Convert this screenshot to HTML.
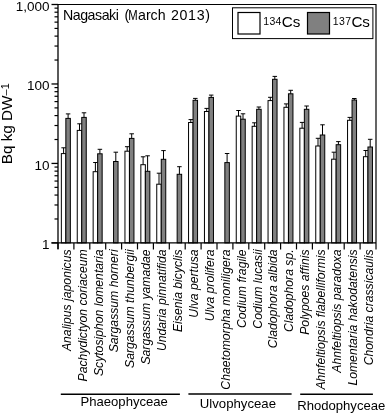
<!DOCTYPE html><html><head><meta charset="utf-8"><style>html,body{margin:0;padding:0;background:#fff;}svg{display:block;will-change:transform;}text{font-family:"Liberation Sans",sans-serif;}</style></head><body>
<svg width="387" height="414" viewBox="0 0 387 414">
<rect x="0" y="0" width="387" height="414" fill="#fff"/>
<rect x="61.35" y="153.60" width="4.50" height="89.30" fill="#fff" stroke="#000" stroke-width="1"/>
<line x1="63.60" y1="153.60" x2="63.60" y2="147.80" stroke="#000" stroke-width="1"/>
<line x1="61.35" y1="147.80" x2="65.85" y2="147.80" stroke="#000" stroke-width="1"/>
<rect x="65.85" y="118.40" width="4.50" height="124.50" fill="#808080" stroke="#000" stroke-width="1"/>
<line x1="68.10" y1="118.40" x2="68.10" y2="113.90" stroke="#000" stroke-width="1"/>
<line x1="65.85" y1="113.90" x2="70.35" y2="113.90" stroke="#000" stroke-width="1"/>
<rect x="77.25" y="130.40" width="4.50" height="112.50" fill="#fff" stroke="#000" stroke-width="1"/>
<line x1="79.50" y1="130.40" x2="79.50" y2="123.80" stroke="#000" stroke-width="1"/>
<line x1="77.25" y1="123.80" x2="81.75" y2="123.80" stroke="#000" stroke-width="1"/>
<rect x="81.75" y="117.40" width="4.50" height="125.50" fill="#808080" stroke="#000" stroke-width="1"/>
<line x1="84.00" y1="117.40" x2="84.00" y2="112.80" stroke="#000" stroke-width="1"/>
<line x1="81.75" y1="112.80" x2="86.25" y2="112.80" stroke="#000" stroke-width="1"/>
<rect x="93.15" y="171.70" width="4.50" height="71.20" fill="#fff" stroke="#000" stroke-width="1"/>
<line x1="95.40" y1="171.70" x2="95.40" y2="162.50" stroke="#000" stroke-width="1"/>
<line x1="93.15" y1="162.50" x2="97.65" y2="162.50" stroke="#000" stroke-width="1"/>
<rect x="97.65" y="153.80" width="4.50" height="89.10" fill="#808080" stroke="#000" stroke-width="1"/>
<line x1="99.90" y1="153.80" x2="99.90" y2="149.30" stroke="#000" stroke-width="1"/>
<line x1="97.65" y1="149.30" x2="102.15" y2="149.30" stroke="#000" stroke-width="1"/>
<rect x="113.55" y="161.50" width="4.50" height="81.40" fill="#808080" stroke="#000" stroke-width="1"/>
<line x1="115.80" y1="161.50" x2="115.80" y2="152.20" stroke="#000" stroke-width="1"/>
<line x1="113.55" y1="152.20" x2="118.05" y2="152.20" stroke="#000" stroke-width="1"/>
<rect x="124.95" y="151.20" width="4.50" height="91.70" fill="#fff" stroke="#000" stroke-width="1"/>
<line x1="127.20" y1="151.20" x2="127.20" y2="146.70" stroke="#000" stroke-width="1"/>
<line x1="124.95" y1="146.70" x2="129.45" y2="146.70" stroke="#000" stroke-width="1"/>
<rect x="129.45" y="138.40" width="4.50" height="104.50" fill="#808080" stroke="#000" stroke-width="1"/>
<line x1="131.70" y1="138.40" x2="131.70" y2="133.80" stroke="#000" stroke-width="1"/>
<line x1="129.45" y1="133.80" x2="133.95" y2="133.80" stroke="#000" stroke-width="1"/>
<rect x="140.85" y="164.70" width="4.50" height="78.20" fill="#fff" stroke="#000" stroke-width="1"/>
<line x1="143.10" y1="164.70" x2="143.10" y2="156.80" stroke="#000" stroke-width="1"/>
<line x1="140.85" y1="156.80" x2="145.35" y2="156.80" stroke="#000" stroke-width="1"/>
<rect x="145.35" y="171.30" width="4.50" height="71.60" fill="#808080" stroke="#000" stroke-width="1"/>
<line x1="147.60" y1="171.30" x2="147.60" y2="155.80" stroke="#000" stroke-width="1"/>
<line x1="145.35" y1="155.80" x2="149.85" y2="155.80" stroke="#000" stroke-width="1"/>
<rect x="156.75" y="184.20" width="4.50" height="58.70" fill="#fff" stroke="#000" stroke-width="1"/>
<line x1="159.00" y1="184.20" x2="159.00" y2="173.20" stroke="#000" stroke-width="1"/>
<line x1="156.75" y1="173.20" x2="161.25" y2="173.20" stroke="#000" stroke-width="1"/>
<rect x="161.25" y="159.30" width="4.50" height="83.60" fill="#808080" stroke="#000" stroke-width="1"/>
<line x1="163.50" y1="159.30" x2="163.50" y2="150.60" stroke="#000" stroke-width="1"/>
<line x1="161.25" y1="150.60" x2="165.75" y2="150.60" stroke="#000" stroke-width="1"/>
<rect x="177.15" y="174.30" width="4.50" height="68.60" fill="#808080" stroke="#000" stroke-width="1"/>
<line x1="179.40" y1="174.30" x2="179.40" y2="166.70" stroke="#000" stroke-width="1"/>
<line x1="177.15" y1="166.70" x2="181.65" y2="166.70" stroke="#000" stroke-width="1"/>
<rect x="188.55" y="122.50" width="4.50" height="120.40" fill="#fff" stroke="#000" stroke-width="1"/>
<line x1="190.80" y1="122.50" x2="190.80" y2="119.60" stroke="#000" stroke-width="1"/>
<line x1="188.55" y1="119.60" x2="193.05" y2="119.60" stroke="#000" stroke-width="1"/>
<rect x="193.05" y="100.30" width="4.50" height="142.60" fill="#808080" stroke="#000" stroke-width="1"/>
<line x1="195.30" y1="100.30" x2="195.30" y2="98.40" stroke="#000" stroke-width="1"/>
<line x1="193.05" y1="98.40" x2="197.55" y2="98.40" stroke="#000" stroke-width="1"/>
<rect x="204.45" y="111.50" width="4.50" height="131.40" fill="#fff" stroke="#000" stroke-width="1"/>
<line x1="206.70" y1="111.50" x2="206.70" y2="108.40" stroke="#000" stroke-width="1"/>
<line x1="204.45" y1="108.40" x2="208.95" y2="108.40" stroke="#000" stroke-width="1"/>
<rect x="208.95" y="97.40" width="4.50" height="145.50" fill="#808080" stroke="#000" stroke-width="1"/>
<line x1="211.20" y1="97.40" x2="211.20" y2="95.10" stroke="#000" stroke-width="1"/>
<line x1="208.95" y1="95.10" x2="213.45" y2="95.10" stroke="#000" stroke-width="1"/>
<rect x="224.85" y="162.60" width="4.50" height="80.30" fill="#808080" stroke="#000" stroke-width="1"/>
<line x1="227.10" y1="162.60" x2="227.10" y2="153.50" stroke="#000" stroke-width="1"/>
<line x1="224.85" y1="153.50" x2="229.35" y2="153.50" stroke="#000" stroke-width="1"/>
<rect x="236.25" y="116.10" width="4.50" height="126.80" fill="#fff" stroke="#000" stroke-width="1"/>
<line x1="238.50" y1="116.10" x2="238.50" y2="110.50" stroke="#000" stroke-width="1"/>
<line x1="236.25" y1="110.50" x2="240.75" y2="110.50" stroke="#000" stroke-width="1"/>
<rect x="240.75" y="119.20" width="4.50" height="123.70" fill="#808080" stroke="#000" stroke-width="1"/>
<line x1="243.00" y1="119.20" x2="243.00" y2="113.80" stroke="#000" stroke-width="1"/>
<line x1="240.75" y1="113.80" x2="245.25" y2="113.80" stroke="#000" stroke-width="1"/>
<rect x="252.15" y="126.30" width="4.50" height="116.60" fill="#fff" stroke="#000" stroke-width="1"/>
<line x1="254.40" y1="126.30" x2="254.40" y2="122.80" stroke="#000" stroke-width="1"/>
<line x1="252.15" y1="122.80" x2="256.65" y2="122.80" stroke="#000" stroke-width="1"/>
<rect x="256.65" y="109.30" width="4.50" height="133.60" fill="#808080" stroke="#000" stroke-width="1"/>
<line x1="258.90" y1="109.30" x2="258.90" y2="107.00" stroke="#000" stroke-width="1"/>
<line x1="256.65" y1="107.00" x2="261.15" y2="107.00" stroke="#000" stroke-width="1"/>
<rect x="268.05" y="100.60" width="4.50" height="142.30" fill="#fff" stroke="#000" stroke-width="1"/>
<line x1="270.30" y1="100.60" x2="270.30" y2="97.30" stroke="#000" stroke-width="1"/>
<line x1="268.05" y1="97.30" x2="272.55" y2="97.30" stroke="#000" stroke-width="1"/>
<rect x="272.55" y="79.30" width="4.50" height="163.60" fill="#808080" stroke="#000" stroke-width="1"/>
<line x1="274.80" y1="79.30" x2="274.80" y2="76.40" stroke="#000" stroke-width="1"/>
<line x1="272.55" y1="76.40" x2="277.05" y2="76.40" stroke="#000" stroke-width="1"/>
<rect x="283.95" y="107.30" width="4.50" height="135.60" fill="#fff" stroke="#000" stroke-width="1"/>
<line x1="286.20" y1="107.30" x2="286.20" y2="103.90" stroke="#000" stroke-width="1"/>
<line x1="283.95" y1="103.90" x2="288.45" y2="103.90" stroke="#000" stroke-width="1"/>
<rect x="288.45" y="93.80" width="4.50" height="149.10" fill="#808080" stroke="#000" stroke-width="1"/>
<line x1="290.70" y1="93.80" x2="290.70" y2="90.30" stroke="#000" stroke-width="1"/>
<line x1="288.45" y1="90.30" x2="292.95" y2="90.30" stroke="#000" stroke-width="1"/>
<rect x="299.85" y="128.20" width="4.50" height="114.70" fill="#fff" stroke="#000" stroke-width="1"/>
<line x1="302.10" y1="128.20" x2="302.10" y2="122.40" stroke="#000" stroke-width="1"/>
<line x1="299.85" y1="122.40" x2="304.35" y2="122.40" stroke="#000" stroke-width="1"/>
<rect x="304.35" y="109.30" width="4.50" height="133.60" fill="#808080" stroke="#000" stroke-width="1"/>
<line x1="306.60" y1="109.30" x2="306.60" y2="106.00" stroke="#000" stroke-width="1"/>
<line x1="304.35" y1="106.00" x2="308.85" y2="106.00" stroke="#000" stroke-width="1"/>
<rect x="315.75" y="146.00" width="4.50" height="96.90" fill="#fff" stroke="#000" stroke-width="1"/>
<line x1="318.00" y1="146.00" x2="318.00" y2="138.30" stroke="#000" stroke-width="1"/>
<line x1="315.75" y1="138.30" x2="320.25" y2="138.30" stroke="#000" stroke-width="1"/>
<rect x="320.25" y="135.00" width="4.50" height="107.90" fill="#808080" stroke="#000" stroke-width="1"/>
<line x1="322.50" y1="135.00" x2="322.50" y2="124.80" stroke="#000" stroke-width="1"/>
<line x1="320.25" y1="124.80" x2="324.75" y2="124.80" stroke="#000" stroke-width="1"/>
<rect x="331.65" y="159.20" width="4.50" height="83.70" fill="#fff" stroke="#000" stroke-width="1"/>
<line x1="333.90" y1="159.20" x2="333.90" y2="152.20" stroke="#000" stroke-width="1"/>
<line x1="331.65" y1="152.20" x2="336.15" y2="152.20" stroke="#000" stroke-width="1"/>
<rect x="336.15" y="144.70" width="4.50" height="98.20" fill="#808080" stroke="#000" stroke-width="1"/>
<line x1="338.40" y1="144.70" x2="338.40" y2="141.60" stroke="#000" stroke-width="1"/>
<line x1="336.15" y1="141.60" x2="340.65" y2="141.60" stroke="#000" stroke-width="1"/>
<rect x="347.55" y="120.30" width="4.50" height="122.60" fill="#fff" stroke="#000" stroke-width="1"/>
<line x1="349.80" y1="120.30" x2="349.80" y2="117.40" stroke="#000" stroke-width="1"/>
<line x1="347.55" y1="117.40" x2="352.05" y2="117.40" stroke="#000" stroke-width="1"/>
<rect x="352.05" y="100.00" width="4.50" height="142.90" fill="#808080" stroke="#000" stroke-width="1"/>
<line x1="354.30" y1="100.00" x2="354.30" y2="98.50" stroke="#000" stroke-width="1"/>
<line x1="352.05" y1="98.50" x2="356.55" y2="98.50" stroke="#000" stroke-width="1"/>
<rect x="363.45" y="156.70" width="4.50" height="86.20" fill="#fff" stroke="#000" stroke-width="1"/>
<line x1="365.70" y1="156.70" x2="365.70" y2="150.50" stroke="#000" stroke-width="1"/>
<line x1="363.45" y1="150.50" x2="367.95" y2="150.50" stroke="#000" stroke-width="1"/>
<rect x="367.95" y="147.00" width="4.50" height="95.90" fill="#808080" stroke="#000" stroke-width="1"/>
<line x1="370.20" y1="147.00" x2="370.20" y2="139.30" stroke="#000" stroke-width="1"/>
<line x1="367.95" y1="139.30" x2="372.45" y2="139.30" stroke="#000" stroke-width="1"/>
<path d="M58.0 4.5 H376.0 V242.9" fill="none" stroke="#000" stroke-width="1.2"/>
<line x1="58.0" y1="4.5" x2="58.0" y2="248.9" stroke="#000" stroke-width="1.3"/>
<line x1="51.5" y1="242.9" x2="376.0" y2="242.9" stroke="#000" stroke-width="1.3"/>
<line x1="51.5" y1="242.90" x2="58.0" y2="242.90" stroke="#000" stroke-width="1.3"/>
<line x1="54.5" y1="218.98" x2="58.0" y2="218.98" stroke="#000" stroke-width="1.2"/>
<line x1="54.5" y1="204.98" x2="58.0" y2="204.98" stroke="#000" stroke-width="1.2"/>
<line x1="54.5" y1="195.06" x2="58.0" y2="195.06" stroke="#000" stroke-width="1.2"/>
<line x1="54.5" y1="187.36" x2="58.0" y2="187.36" stroke="#000" stroke-width="1.2"/>
<line x1="54.5" y1="181.06" x2="58.0" y2="181.06" stroke="#000" stroke-width="1.2"/>
<line x1="54.5" y1="175.74" x2="58.0" y2="175.74" stroke="#000" stroke-width="1.2"/>
<line x1="54.5" y1="171.13" x2="58.0" y2="171.13" stroke="#000" stroke-width="1.2"/>
<line x1="54.5" y1="167.07" x2="58.0" y2="167.07" stroke="#000" stroke-width="1.2"/>
<line x1="51.5" y1="163.43" x2="58.0" y2="163.43" stroke="#000" stroke-width="1.3"/>
<line x1="54.5" y1="139.51" x2="58.0" y2="139.51" stroke="#000" stroke-width="1.2"/>
<line x1="54.5" y1="125.52" x2="58.0" y2="125.52" stroke="#000" stroke-width="1.2"/>
<line x1="54.5" y1="115.59" x2="58.0" y2="115.59" stroke="#000" stroke-width="1.2"/>
<line x1="54.5" y1="107.89" x2="58.0" y2="107.89" stroke="#000" stroke-width="1.2"/>
<line x1="54.5" y1="101.60" x2="58.0" y2="101.60" stroke="#000" stroke-width="1.2"/>
<line x1="54.5" y1="96.28" x2="58.0" y2="96.28" stroke="#000" stroke-width="1.2"/>
<line x1="54.5" y1="91.67" x2="58.0" y2="91.67" stroke="#000" stroke-width="1.2"/>
<line x1="54.5" y1="87.60" x2="58.0" y2="87.60" stroke="#000" stroke-width="1.2"/>
<line x1="51.5" y1="83.97" x2="58.0" y2="83.97" stroke="#000" stroke-width="1.3"/>
<line x1="54.5" y1="60.04" x2="58.0" y2="60.04" stroke="#000" stroke-width="1.2"/>
<line x1="54.5" y1="46.05" x2="58.0" y2="46.05" stroke="#000" stroke-width="1.2"/>
<line x1="54.5" y1="36.12" x2="58.0" y2="36.12" stroke="#000" stroke-width="1.2"/>
<line x1="54.5" y1="28.42" x2="58.0" y2="28.42" stroke="#000" stroke-width="1.2"/>
<line x1="54.5" y1="22.13" x2="58.0" y2="22.13" stroke="#000" stroke-width="1.2"/>
<line x1="54.5" y1="16.81" x2="58.0" y2="16.81" stroke="#000" stroke-width="1.2"/>
<line x1="54.5" y1="12.20" x2="58.0" y2="12.20" stroke="#000" stroke-width="1.2"/>
<line x1="54.5" y1="8.14" x2="58.0" y2="8.14" stroke="#000" stroke-width="1.2"/>
<line x1="51.5" y1="4.5" x2="58.0" y2="4.5" stroke="#000" stroke-width="1.3"/>
<line x1="58.00" y1="242.9" x2="58.00" y2="249.4" stroke="#000" stroke-width="1.2"/>
<line x1="73.90" y1="242.9" x2="73.90" y2="249.4" stroke="#000" stroke-width="1.2"/>
<line x1="89.80" y1="242.9" x2="89.80" y2="249.4" stroke="#000" stroke-width="1.2"/>
<line x1="105.70" y1="242.9" x2="105.70" y2="249.4" stroke="#000" stroke-width="1.2"/>
<line x1="121.60" y1="242.9" x2="121.60" y2="249.4" stroke="#000" stroke-width="1.2"/>
<line x1="137.50" y1="242.9" x2="137.50" y2="249.4" stroke="#000" stroke-width="1.2"/>
<line x1="153.40" y1="242.9" x2="153.40" y2="249.4" stroke="#000" stroke-width="1.2"/>
<line x1="169.30" y1="242.9" x2="169.30" y2="249.4" stroke="#000" stroke-width="1.2"/>
<line x1="185.20" y1="242.9" x2="185.20" y2="249.4" stroke="#000" stroke-width="1.2"/>
<line x1="201.10" y1="242.9" x2="201.10" y2="249.4" stroke="#000" stroke-width="1.2"/>
<line x1="217.00" y1="242.9" x2="217.00" y2="249.4" stroke="#000" stroke-width="1.2"/>
<line x1="232.90" y1="242.9" x2="232.90" y2="249.4" stroke="#000" stroke-width="1.2"/>
<line x1="248.80" y1="242.9" x2="248.80" y2="249.4" stroke="#000" stroke-width="1.2"/>
<line x1="264.70" y1="242.9" x2="264.70" y2="249.4" stroke="#000" stroke-width="1.2"/>
<line x1="280.60" y1="242.9" x2="280.60" y2="249.4" stroke="#000" stroke-width="1.2"/>
<line x1="296.50" y1="242.9" x2="296.50" y2="249.4" stroke="#000" stroke-width="1.2"/>
<line x1="312.40" y1="242.9" x2="312.40" y2="249.4" stroke="#000" stroke-width="1.2"/>
<line x1="328.30" y1="242.9" x2="328.30" y2="249.4" stroke="#000" stroke-width="1.2"/>
<line x1="344.20" y1="242.9" x2="344.20" y2="249.4" stroke="#000" stroke-width="1.2"/>
<line x1="360.10" y1="242.9" x2="360.10" y2="249.4" stroke="#000" stroke-width="1.2"/>
<line x1="376.00" y1="242.9" x2="376.00" y2="249.4" stroke="#000" stroke-width="1.2"/>
<text x="49.6" y="10.60" font-size="13.5" text-anchor="end">1,000</text>
<text x="49.6" y="90.07" font-size="13.5" text-anchor="end">100</text>
<text x="49.6" y="169.53" font-size="13.5" text-anchor="end">10</text>
<text x="49.6" y="249.00" font-size="13.5" text-anchor="end">1</text>
<text transform="translate(12.3,164.3) rotate(-90)" font-size="15.3">Bq kg DW<tspan font-size="11" dy="-3">–1</tspan></text>
<text x="62.9" y="19.8" font-size="14.2" letter-spacing="-0.45">Nagasaki</text><text y="19.8" font-size="14.2"><tspan x="124.4">(</tspan><tspan x="128.3" textLength="9.4" lengthAdjust="spacingAndGlyphs">M</tspan><tspan x="138.0">arch</tspan><tspan x="170.9" letter-spacing="0.7">2013)</tspan></text>
<rect x="232.5" y="7.8" width="140.4" height="30.8" fill="#fff" stroke="#000" stroke-width="1"/>
<rect x="238" y="12.5" width="22" height="21.5" fill="#fff" stroke="#000" stroke-width="1.2"/>
<rect x="307.5" y="12.5" width="22" height="21.5" fill="#808080" stroke="#000" stroke-width="1.2"/>
<text x="263.2" y="27.3" font-size="15.2"><tspan font-size="10.5" dy="-2.8" letter-spacing="0.35">134</tspan><tspan dy="2.8">Cs</tspan></text>
<text x="332.8" y="27.3" font-size="15.2"><tspan font-size="10.5" dy="-2.8" letter-spacing="0.35">137</tspan><tspan dy="2.8">Cs</tspan></text>
<text transform="translate(70.75,249.4) rotate(-90)" font-size="12.2" font-style="italic" text-anchor="end">Analipus japonicus</text>
<text transform="translate(86.65,249.4) rotate(-90)" font-size="12.2" font-style="italic" text-anchor="end">Pachydictyon coriaceum</text>
<text transform="translate(102.55,249.4) rotate(-90)" font-size="12.2" font-style="italic" text-anchor="end">Scytosiphon lomentaria</text>
<text transform="translate(118.45,249.4) rotate(-90)" font-size="12.2" font-style="italic" text-anchor="end">Sargassum horneri</text>
<text transform="translate(134.35,249.4) rotate(-90)" font-size="12.2" font-style="italic" text-anchor="end">Sargassum thunbergii</text>
<text transform="translate(150.25,249.4) rotate(-90)" font-size="12.2" font-style="italic" text-anchor="end">Sargassum yamadae</text>
<text transform="translate(166.15,249.4) rotate(-90)" font-size="12.2" font-style="italic" text-anchor="end">Undaria pinnatifida</text>
<text transform="translate(182.05,249.4) rotate(-90)" font-size="12.2" font-style="italic" text-anchor="end">Eisenia bicyclis</text>
<text transform="translate(197.95,249.4) rotate(-90)" font-size="12.2" font-style="italic" text-anchor="end">Ulva pertusa</text>
<text transform="translate(213.85,249.4) rotate(-90)" font-size="12.2" font-style="italic" text-anchor="end">Ulva prolifera</text>
<text transform="translate(229.75,249.4) rotate(-90)" font-size="12.2" font-style="italic" text-anchor="end">Chaetomorpha moniligera</text>
<text transform="translate(245.65,249.4) rotate(-90)" font-size="12.2" font-style="italic" text-anchor="end">Codium fragile</text>
<text transform="translate(261.55,249.4) rotate(-90)" font-size="12.2" font-style="italic" text-anchor="end">Codium lucasii</text>
<text transform="translate(277.45,249.4) rotate(-90)" font-size="12.2" font-style="italic" text-anchor="end">Cladophora albida</text>
<text transform="translate(293.35,249.4) rotate(-90)" font-size="12.2" font-style="italic" text-anchor="end">Cladophora sp.</text>
<text transform="translate(309.25,249.4) rotate(-90)" font-size="12.2" font-style="italic" text-anchor="end">Polypoes affinis</text>
<text transform="translate(325.15,249.4) rotate(-90)" font-size="12.2" font-style="italic" text-anchor="end">Ahnfeltiopsis flabelliformis</text>
<text transform="translate(341.05,249.4) rotate(-90)" font-size="12.2" font-style="italic" text-anchor="end">Ahnfeltiopsis paradoxa</text>
<text transform="translate(356.95,249.4) rotate(-90)" font-size="12.2" font-style="italic" text-anchor="end">Lomentaria hakodatensis</text>
<text transform="translate(372.85,249.4) rotate(-90)" font-size="12.2" font-style="italic" text-anchor="end">Chondria crassicaulis</text>
<line x1="60.8" y1="394.2" x2="179.9" y2="394.2" stroke="#000" stroke-width="1.5"/>
<line x1="188.4" y1="394.1" x2="291.6" y2="394.1" stroke="#000" stroke-width="1.5"/>
<line x1="300.2" y1="394.2" x2="372.9" y2="394.2" stroke="#000" stroke-width="1.5"/>
<text x="80.5" y="406.4" font-size="13.1">Phaeophyceae</text>
<text x="199.8" y="407.6" font-size="13.2">Ulvophyceae</text>
<text x="297.2" y="409.6" font-size="13.1">Rhodophyceae</text>
</svg></body></html>
